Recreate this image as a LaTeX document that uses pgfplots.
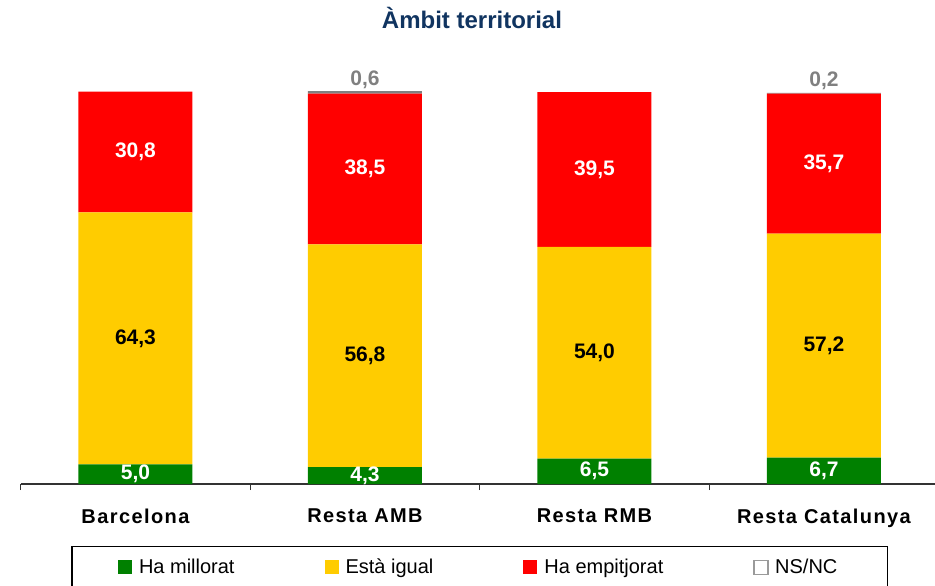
\documentclass[border=0pt]{standalone}
\usepackage{fontspec}
\setmainfont{Liberation Sans}
\newfontfamily\spaced[LetterSpace=7]{Liberation Sans}
\usepackage{pgfplots}
\pgfplotsset{compat=1.18}
\definecolor{cgreen}{RGB}{0,128,0}
\definecolor{cyellow}{RGB}{255,204,0}
\definecolor{cred}{RGB}{255,0,0}
\definecolor{cgray}{RGB}{128,128,128}
\definecolor{ctitle}{RGB}{16,52,96}

\begin{document}
\begin{tikzpicture}
\useasboundingbox (0,0) rectangle (467.5pt,292.5pt);
\begin{axis}[
  at={(10.35pt,50.5pt)}, anchor=south west,
  scale only axis, width=459pt, height=196pt,
  xmin=-0.5, xmax=3.5, ymin=0, ymax=100,
  clip=false,
  ybar stacked, bar width=57pt,
  axis x line*=bottom, axis y line=none,
  axis line style={black!80, line width=0.6pt},
  xtick={-0.5,0.5,1.5,2.5,3.5}, xticklabels={},
  tick align=outside, major tick length=3pt,
  xtick style={black!80, line width=0.6pt},
  extra x ticks={0,1,2,3},
  extra x tick labels={Barcelona,Resta AMB,Resta RMB,Resta Catalunya},
  extra x tick style={major tick length=0pt,
    xticklabel style={font=\spaced\bfseries\fontsize{10}{12}\selectfont, yshift=-9pt}},
  title={Àmbit territorial},
  title style={font=\bfseries\fontsize{12}{14}\selectfont, text=ctitle,
    at={(axis description cs:0.4916,1)}, anchor=center, yshift=31pt},
  point meta=rawy,
  /pgf/number format/.cd, fixed, fixed zerofill, precision=1, use comma,
    assume math mode=true, /pgfplots/.cd,
  visualization depends on=rawy \as \rawy,
  legend columns=4,
  legend style={at={(axis description cs:0.5,-0.158)}, anchor=north,
    draw=black, line width=0.6pt, inner xsep=23pt, inner ysep=4pt,
    font=\fontsize{10}{12}\selectfont,
    /tikz/every even column/.append style={column sep=43pt}},
  mid label/.style={nodes near coords,
    every node near coord/.append style={font=\bfseries\fontsize{10.5}{12}\selectfont,
      text=#1, anchor=center}},
]
\addplot[fill=cgreen, draw=none, mid label=white,
  legend image code/.code={\fill[cgreen] (0pt,-3.5pt) rectangle (7pt,3.5pt);
    \path (8.5pt,0pt);}]
  coordinates {(0,5.0) (1,4.3) (2,6.5) (3,6.7)};
\addlegendentry{Ha millorat}
\addplot[fill=cyellow, draw=none, mid label=black,
  legend image code/.code={\fill[cyellow] (0pt,-3.5pt) rectangle (7pt,3.5pt);
    \path (8.5pt,0pt);}]
  coordinates {(0,64.3) (1,56.8) (2,54.0) (3,57.2)};
\addlegendentry{Està igual}
\addplot[fill=cred, draw=none, mid label=white,
  legend image code/.code={\fill[cred] (0pt,-3.5pt) rectangle (7pt,3.5pt);
    \path (8.5pt,0pt);}]
  coordinates {(0,30.8) (1,38.5) (2,39.5) (3,35.7)};
\addlegendentry{Ha empitjorat}
\addplot[fill=cgray, draw=none,
  legend image code/.code={\draw[cgray!80, fill=white, line width=0.8pt] (0pt,-3.5pt) rectangle (7pt,3.5pt);
    \path (8.5pt,0pt);},
  nodes near coords={\ifdim\rawy pt>0.01pt\pgfmathprintnumber{\rawy}\fi},
  every node near coord/.append style={font=\bfseries\fontsize{10.5}{12}\selectfont,
    text=cgray, anchor=south, inner sep=1.5pt}]
  coordinates {(0,0) (1,0.6) (2,0) (3,0.2)};
\addlegendentry{NS/NC}
\end{axis}
\end{tikzpicture}
\end{document}
